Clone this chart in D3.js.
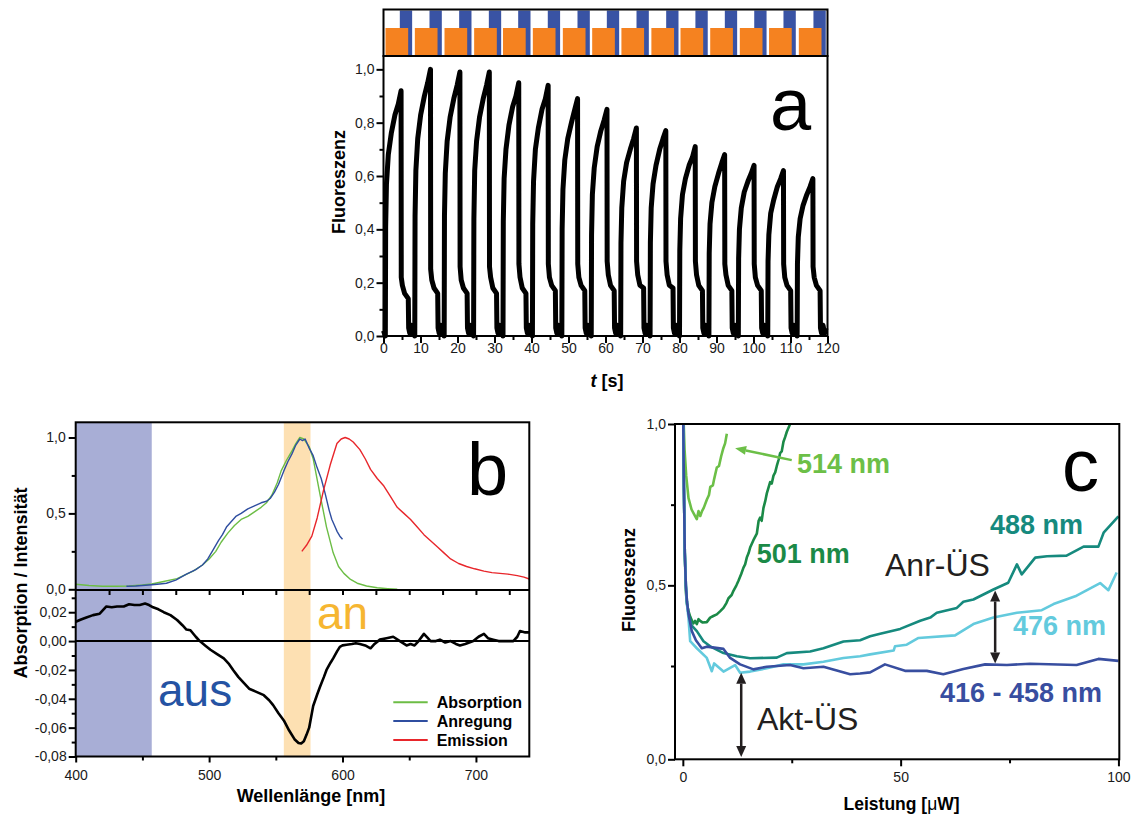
<!DOCTYPE html>
<html><head><meta charset="utf-8">
<script src="https://cdn.jsdelivr.net/npm/d3@7"></script>
<style>
body{margin:0;background:#fff}
svg{display:block}
</style>
</head><body>
<svg id="chart" width="1137" height="816"></svg>
<script>
// ---------------- Panel a data ----------------
const aTickX = [0,10,20,30,40,50,60,70,80,90,100,110,120];
const aMinorX = [5,15,25,35,45,55,65,75,85,95,105,115];
const aTickY = [0,0.2,0.4,0.6,0.8,1.0];
const aMinorY = [0.1,0.3,0.5,0.7,0.9];
const orangeStart = [0.54,8.47,16.49,24.5,32.3,40.36,48.47,56.4,64.3,72.4,80.27,88.3,96.3,104.2,112.25];
const orangeLen = 6.13;
const blueStart = [4.41,12.43,20.45,28.47,36.4,44.4,52.43,60.36,68.38,76.4,84.3,92.25,100.2,108.1,116.2];
const blueLen = 3.33;
const cycleStart = [0.5,8.45,16.4,24.35,32.3,40.25,48.2,56.15,64.1,72.05,80.0,87.95,95.9,103.85,111.8];
const cycleOffset = [0,0.08,0.3,0.8,1.6,2.6,3.5,4.25,4.3,4.6,5.2,6.2,6.3,6.6,7.0,7.4,7.8];
const cycleValues = [
 [0,0.41,0.57,0.68,0.76,0.83,0.87,0.92,0.22,0.19,0.16,0.14,0.03,0.01,0.04,0.01,0.03],
 [0,0.45,0.62,0.74,0.83,0.90,0.95,1.00,0.25,0.21,0.18,0.16,0.03,0.01,0.04,0.01,0.03],
 [0,0.45,0.61,0.73,0.82,0.89,0.94,0.99,0.26,0.21,0.18,0.16,0.03,0.01,0.04,0.01,0.03],
 [0,0.44,0.62,0.73,0.82,0.89,0.94,0.99,0.26,0.22,0.18,0.16,0.03,0.01,0.04,0.01,0.03],
 [0,0.43,0.59,0.70,0.79,0.86,0.90,0.95,0.27,0.22,0.18,0.16,0.03,0.01,0.04,0.01,0.03],
 [0,0.42,0.58,0.70,0.78,0.85,0.89,0.94,0.27,0.22,0.19,0.17,0.03,0.01,0.04,0.01,0.03],
 [0,0.40,0.55,0.66,0.74,0.80,0.85,0.89,0.27,0.22,0.19,0.17,0.03,0.01,0.04,0.01,0.03],
 [0,0.38,0.53,0.63,0.71,0.77,0.81,0.85,0.28,0.23,0.19,0.17,0.03,0.01,0.04,0.01,0.03],
 [0,0.35,0.48,0.58,0.65,0.70,0.74,0.78,0.28,0.23,0.19,0.18,0.03,0.01,0.04,0.01,0.03],
 [0,0.35,0.48,0.57,0.64,0.70,0.74,0.77,0.28,0.23,0.19,0.18,0.03,0.01,0.04,0.01,0.03],
 [0,0.32,0.44,0.53,0.59,0.64,0.67,0.71,0.28,0.23,0.19,0.17,0.03,0.01,0.04,0.01,0.03],
 [0,0.31,0.42,0.50,0.56,0.61,0.65,0.68,0.27,0.23,0.19,0.17,0.03,0.01,0.04,0.01,0.03],
 [0,0.29,0.40,0.48,0.54,0.58,0.61,0.64,0.27,0.22,0.19,0.17,0.03,0.01,0.04,0.01,0.03],
 [0,0.28,0.38,0.46,0.51,0.56,0.59,0.62,0.27,0.22,0.19,0.17,0.03,0.01,0.04,0.01,0.03],
 [0,0.27,0.37,0.44,0.49,0.53,0.56,0.59,0.26,0.22,0.19,0.17,0.03,0.01,0.04,0.01,0.03]
];

// ---------------- Panel b data ----------------
const bTickX = [400,500,600,700];
const bMinorX = [450,550,650];
const bMidTicks = [425,450,475,500,525,550,575,600,625,650,675,700,725];
const bUpTicks = [0,0.5,1.0];
const bUpMinor = [0.25,0.75];
const bLowTicks = [-0.08,-0.06,-0.04,-0.02,0,0.02];
const bLowMinor = [-0.07,-0.05,-0.03,-0.01,0.01,0.03];
const bandAus = [400,457];
const bandAn = [556,576];
const absorption = [[400,0.033],[410,0.025],[420,0.02],[430,0.02],[440,0.022],[450,0.028],[457,0.035],[465,0.05],[476,0.07],[488,0.12],[495,0.16],[500,0.2],[505,0.25],[509,0.31],[514,0.37],[519,0.42],[524,0.46],[529,0.48],[534,0.51],[539,0.54],[543,0.57],[547,0.62],[551,0.70],[554,0.78],[558,0.85],[562,0.91],[565,0.96],[568,1.0],[571,0.99],[575,0.94],[578,0.86],[583,0.63],[588,0.41],[593,0.24],[597,0.15],[601,0.105],[606,0.065],[611,0.04],[618,0.022],[626,0.01],[634,0.004],[641,0.0]];
const excitation = [[438,0.02],[445,0.022],[450,0.025],[457,0.03],[463,0.035],[468,0.04],[475,0.06],[483,0.1],[490,0.13],[495,0.16],[499,0.2],[503,0.26],[507,0.32],[510,0.36],[513,0.41],[516,0.44],[520,0.48],[524,0.5],[529,0.53],[534,0.55],[539,0.57],[543,0.58],[546,0.6],[549,0.64],[552,0.69],[556,0.78],[559,0.84],[562,0.89],[565,0.95],[568,0.99],[570,0.98],[572,0.99],[575,0.93],[578,0.88],[581,0.8],[584,0.73],[587,0.63],[590,0.52],[592,0.46],[594,0.42],[596,0.38],[598,0.35],[600,0.33]];
const emission = [[569.5,0.25],[573,0.29],[577,0.35],[581,0.47],[585.7,0.65],[590.8,0.82],[595.8,0.96],[599,0.99],[602,1.0],[605,0.99],[608,0.97],[613,0.92],[617,0.86],[621,0.79],[626,0.73],[631,0.68],[636,0.61],[641,0.54],[646,0.5],[651,0.46],[656,0.41],[661,0.36],[666,0.32],[671,0.28],[676,0.24],[681,0.2],[687,0.17],[693,0.15],[699,0.135],[706,0.12],[712,0.11],[718,0.105],[724,0.1],[731,0.09],[736,0.08],[740,0.068]];
const difference = [[400,0.0134],[404,0.015],[408,0.0164],[413,0.018],[418,0.019],[423,0.024],[427,0.0235],[431,0.024],[436,0.024],[440,0.0255],[444,0.025],[448,0.025],[452,0.026],[455,0.025],[458,0.0234],[462,0.022],[466,0.020],[471,0.018],[476,0.0146],[480,0.011],[483,0.008],[486,0.0075],[490,0.003],[493,0.0],[497,-0.003],[501,-0.006],[506,-0.009],[511,-0.012],[515,-0.016],[518,-0.02],[522,-0.025],[526,-0.029],[530,-0.033],[535,-0.035],[541,-0.0375],[545,-0.041],[548,-0.0444],[552,-0.05],[556,-0.055],[560,-0.062],[564,-0.068],[567,-0.0706],[569,-0.071],[571,-0.0695],[573,-0.065],[575,-0.06],[578,-0.045],[581,-0.037],[583,-0.032],[586,-0.025],[588,-0.02],[591,-0.015],[593,-0.012],[596,-0.007],[598,-0.004],[600,-0.003],[603,-0.0025],[607,-0.002],[610,-0.0015],[613,-0.002],[617,-0.003],[621,-0.005],[624,-0.002],[628,0.001],[633,0.002],[638,0.003],[643,0.0],[648,-0.003],[651,-0.002],[654,-0.003],[657,0.0],[661,0.005],[664,0.002],[666,0.0],[670,0.0],[673,0.001],[677,-0.001],[681,0.0],[685,-0.002],[688,-0.003],[692,-0.002],[698,0.0],[702,0.003],[706,0.005],[709,0.002],[713,0.001],[717,0.0],[721,0.0],[725,0.0],[728,0.0],[731,0.003],[733,0.007],[737,0.006],[740,0.006]];
const legendNames = ["Absorption","Anregung","Emission"];

// ---------------- Panel c data ----------------
const cTickX = [0,50,100];
const cMinorX = [25,75];
const cTickY = [0,0.5,1.0];
const cMinorY = [0.25,0.75];
const s514 = [[0.2,1.0],[0.4,0.92],[0.77,0.84],[1.3,0.77],[2.0,0.735],[2.6,0.72],[3.2,0.705],[3.6,0.73],[4.0,0.715],[4.4,0.73],[4.8,0.74],[5.5,0.765],[6.0,0.78],[6.3,0.805],[6.9,0.81],[7.2,0.83],[7.8,0.865],[8.3,0.87],[8.8,0.9],[9.3,0.925],[9.7,0.94],[10.1,0.97]];
const s501 = [[0.1,1.0],[0.25,0.8],[0.45,0.6],[0.7,0.48],[0.92,0.443],[1.3,0.42],[1.68,0.403],[2.1,0.39],[2.44,0.382],[2.8,0.39],[3.21,0.38],[3.6,0.395],[3.97,0.39],[4.5,0.385],[5.5,0.386],[6.27,0.40],[7.0,0.405],[7.8,0.41],[8.6,0.42],[9.33,0.43],[10.0,0.445],[10.48,0.46],[11.2,0.47],[11.62,0.483],[12.3,0.5],[12.77,0.514],[13.4,0.535],[13.92,0.555],[14.3,0.565],[14.68,0.586],[15.1,0.60],[15.45,0.617],[16.2,0.64],[16.98,0.66],[17.4,0.70],[17.75,0.71],[18.1,0.70],[18.51,0.74],[18.9,0.76],[19.28,0.785],[19.6,0.80],[20.04,0.82],[20.4,0.815],[20.81,0.84],[21.2,0.85],[21.57,0.87],[22.0,0.89],[22.34,0.91],[22.7,0.915],[23.1,0.945],[23.5,0.96],[23.87,0.976],[24.63,1.0]];
const s488 = [[0.1,1.0],[0.25,0.8],[0.45,0.6],[0.7,0.5],[0.95,0.45],[1.3,0.41],[2.06,0.375],[3.21,0.358],[4.74,0.327],[6.27,0.311],[9.33,0.29],[12.39,0.28],[15.45,0.274],[21.57,0.276],[23.87,0.29],[29.22,0.295],[32.28,0.305],[36.88,0.326],[40.7,0.33],[43.0,0.342],[45.3,0.35],[49.9,0.365],[54.5,0.39],[56.8,0.40],[58.3,0.415],[62.9,0.43],[64.4,0.449],[66.7,0.456],[71.3,0.487],[74.7,0.508],[76.7,0.565],[77.8,0.534],[80.9,0.586],[83.6,0.59],[88.1,0.592],[92.0,0.62],[95.4,0.62],[96.6,0.663],[100,0.714]];
const s476 = [[0.1,1.0],[0.25,0.8],[0.45,0.6],[0.7,0.5],[0.95,0.44],[1.29,0.40],[1.68,0.327],[3.21,0.305],[5.5,0.275],[6.65,0.236],[7.19,0.258],[9.33,0.235],[12.0,0.253],[13.15,0.232],[15.45,0.235],[19.28,0.244],[23.1,0.255],[27.69,0.255],[32.28,0.263],[36.88,0.275],[40.7,0.28],[43.0,0.286],[48.4,0.298],[48.7,0.311],[51.4,0.316],[54.1,0.337],[62.5,0.345],[66.7,0.38],[71.3,0.40],[76.7,0.415],[82.4,0.423],[85.1,0.442],[90.4,0.468],[95.8,0.507],[97.7,0.485],[99.6,0.54]];
const s416 = [[0.1,1.0],[0.25,0.8],[0.45,0.6],[0.7,0.5],[0.95,0.45],[1.3,0.41],[2.06,0.358],[3.0,0.33],[4.35,0.305],[5.5,0.31],[9.33,0.303],[10.86,0.275],[13.15,0.255],[16.21,0.241],[19.28,0.248],[24.63,0.253],[27.69,0.244],[32.28,0.248],[38.41,0.228],[40.7,0.23],[43.0,0.233],[46.4,0.255],[51.0,0.237],[56.0,0.237],[59.8,0.228],[64.4,0.242],[69.4,0.255],[74.4,0.253],[79.7,0.257],[90.4,0.253],[95.4,0.272],[100,0.266]];
const cSeries = [
  {name:"514 nm", data:s514, color:"#6cbf47"},
  {name:"501 nm", data:s501, color:"#1b8a47"},
  {name:"488 nm", data:s488, color:"#168a7e"},
  {name:"476 nm", data:s476, color:"#63cadd"},
  {name:"416 - 458 nm", data:s416, color:"#384ea0"}
];
const aktArrow = {p:13.4, from:0.232, to:0.006};
const anrArrow = {p:71.7, from:0.484, to:0.258};
const arrow514 = {from:[25.0,0.888], to:[12.0,0.925]};

// ---------------- drawing ----------------
const FONT = '"Liberation Sans", Arial, Helvetica, sans-serif';
const TFS = 14;
const svg = d3.select("#chart");
const loc = d3.formatLocale({decimal:",", thousands:".", grouping:[3], currency:["",""], minus:"-"});
const f1 = loc.format(".1f"), f2 = loc.format(".2f"), fd = loc.format("d");

function styleAxis(g, fs){
  g.select(".domain").remove();
  g.selectAll(".tick line").attr("stroke","#000").attr("stroke-width",2);
  g.selectAll(".tick text").attr("font-family",FONT).attr("font-size",fs).attr("fill","#1a1a1a");
}
function noLabel(){ return ""; }
function arrowHead(g, x1,y1,x2,y2,color,L,W){
  const dx=x2-x1, dy=y2-y1, len=Math.hypot(dx,dy), ux=dx/len, uy=dy/len;
  const bx=x2-ux*L, by=y2-uy*L;
  g.append("path").attr("d",`M${x2},${y2}L${bx-uy*W/2},${by+ux*W/2}L${bx+uy*W/2},${by-ux*W/2}Z`).attr("fill",color);
  return [bx,by];
}

// ===== Panel a =====
{
  const x = d3.scaleLinear([0,120],[383.5,827.5]);
  const y = d3.scaleLinear([0,1.05],[336,56]);
  const g = svg.append("g");
  g.selectAll("rect.blue").data(blueStart).join("rect").attr("class","blue")
    .attr("x",d=>x(d)).attr("width",d=>x(d+blueLen)-x(d)).attr("y",10.5).attr("height",44.5).attr("fill","#3953a4");
  g.selectAll("rect.orange").data(orangeStart).join("rect").attr("class","orange")
    .attr("x",d=>x(d)).attr("width",d=>x(d+orangeLen)-x(d)).attr("y",28).attr("height",27).attr("fill","#f58220");
  g.append("rect").attr("x",383.5).attr("y",9.5).attr("width",444).attr("height",46.5)
    .attr("fill","none").attr("stroke","#000").attr("stroke-width",2);

  const pts = [[0,0.02]];
  cycleStart.forEach((s,i)=>cycleOffset.forEach((o,j)=>pts.push([s+o, cycleValues[i][j]])));
  g.append("path").datum(pts).attr("d",d3.line().x(d=>x(d[0])).y(d=>y(d[1])))
    .attr("fill","none").attr("stroke","#000").attr("stroke-width",5).attr("stroke-linejoin","round");

  g.append("rect").attr("x",383.5).attr("y",56).attr("width",444).attr("height",280)
    .attr("fill","none").attr("stroke","#000").attr("stroke-width",2);

  g.append("g").attr("transform","translate(383.5,0)").call(d3.axisLeft(y).tickValues(aTickY).tickFormat(f1).tickSize(7).tickPadding(2)).call(styleAxis,TFS);
  g.append("g").attr("transform","translate(383.5,0)").call(d3.axisLeft(y).tickValues(aMinorY).tickFormat(noLabel).tickSize(4)).call(styleAxis,TFS);
  g.append("g").attr("transform","translate(0,336)").call(d3.axisBottom(x).tickValues(aTickX).tickFormat(fd).tickSize(7).tickPadding(0)).call(styleAxis,TFS);
  g.append("g").attr("transform","translate(0,336)").call(d3.axisBottom(x).tickValues(aMinorX).tickFormat(noLabel).tickSize(4)).call(styleAxis,TFS);

  g.append("text").attr("transform","translate(345,182) rotate(-90)").attr("text-anchor","middle")
    .attr("font-family",FONT).attr("font-weight","bold").attr("font-size",18).text("Fluoreszenz");
  const xl = g.append("text").attr("x",607).attr("y",387).attr("text-anchor","middle")
    .attr("font-family",FONT).attr("font-weight","bold").attr("font-size",18);
  xl.append("tspan").attr("font-style","italic").text("t");
  xl.append("tspan").text(" [s]");
  g.append("text").attr("x",770).attr("y",130).attr("font-family",FONT).attr("font-size",74).text("a");
}

// ===== Panel b =====
{
  const x = d3.scaleLinear([400,740],[75.7,529.3]);
  const yU = d3.scaleLinear([0,1.1],[589.3,422.3]);
  const yL = d3.scaleLinear([-0.08,0.0354],[756.5,590]);
  const g = svg.append("g");
  g.append("rect").attr("x",x(bandAus[0])).attr("width",x(bandAus[1])-x(bandAus[0])).attr("y",422.3).attr("height",334.2).attr("fill","#a8aed6");
  g.append("rect").attr("x",x(bandAn[0])).attr("width",x(bandAn[1])-x(bandAn[0])).attr("y",422.3).attr("height",334.2).attr("fill","#fde0b2");

  const lineU = d3.line().x(d=>x(d[0])).y(d=>yU(d[1]));
  const lineL = d3.line().x(d=>x(d[0])).y(d=>yL(d[1]));
  const colors = ["#6cbd45","#2f4ea0","#e8262b"];
  [absorption, excitation, emission].forEach((s,i)=>{
    g.append("path").datum(s).attr("d",lineU).attr("fill","none").attr("stroke",colors[i]).attr("stroke-width",1.4).attr("stroke-linejoin","round");
  });
  g.append("line").attr("x1",x(400)).attr("x2",x(740)).attr("y1",yL(0)).attr("y2",yL(0)).attr("stroke","#000").attr("stroke-width",2);
  g.append("path").datum(difference).attr("d",lineL).attr("fill","none").attr("stroke","#000").attr("stroke-width",2.6).attr("stroke-linejoin","round");

  g.append("rect").attr("x",75.7).attr("y",422.3).attr("width",453.6).attr("height",334.2).attr("fill","none").attr("stroke","#000").attr("stroke-width",2);
  g.append("line").attr("x1",75.7).attr("x2",529.3).attr("y1",590).attr("y2",590).attr("stroke","#000").attr("stroke-width",2);

  g.append("g").attr("transform","translate(75.7,0)").call(d3.axisLeft(yU).tickValues(bUpTicks).tickFormat(f1).tickSize(7).tickPadding(3)).call(styleAxis,TFS);
  g.append("g").attr("transform","translate(75.7,0)").call(d3.axisLeft(yU).tickValues(bUpMinor).tickFormat(noLabel).tickSize(4)).call(styleAxis,TFS);
  g.append("g").attr("transform","translate(75.7,0)").call(d3.axisLeft(yL).tickValues(bLowTicks).tickFormat(f2).tickSize(7).tickPadding(2)).call(styleAxis,TFS);
  g.append("g").attr("transform","translate(75.7,0)").call(d3.axisLeft(yL).tickValues(bLowMinor).tickFormat(noLabel).tickSize(4)).call(styleAxis,TFS);
  g.append("g").attr("transform","translate(0,590)").call(d3.axisBottom(x).tickValues(bMidTicks).tickFormat(noLabel).tickSize(5)).call(styleAxis,TFS);
  g.append("g").attr("transform","translate(0,756.5)").call(d3.axisBottom(x).tickValues(bTickX).tickFormat(fd).tickSize(6).tickPadding(8)).call(styleAxis,TFS);
  g.append("g").attr("transform","translate(0,756.5)").call(d3.axisBottom(x).tickValues(bMinorX).tickFormat(noLabel).tickSize(4)).call(styleAxis,TFS);

  g.append("text").attr("transform","translate(27,583) rotate(-90)").attr("text-anchor","middle")
    .attr("font-family",FONT).attr("font-weight","bold").attr("font-size",18).text("Absorption / Intensität");
  g.append("text").attr("x",311).attr("y",802).attr("text-anchor","middle")
    .attr("font-family",FONT).attr("font-weight","bold").attr("font-size",18).text("Wellenlänge [nm]");
  g.append("text").attr("x",467).attr("y",495).attr("font-family",FONT).attr("font-size",74).text("b");
  g.append("text").attr("x",158).attr("y",706).attr("font-family",FONT).attr("font-size",46).attr("fill","#2553a3").text("aus");
  g.append("text").attr("x",317).attr("y",629).attr("font-family",FONT).attr("font-size",46).attr("fill","#f6b631").text("an");

  legendNames.forEach((n,i)=>{
    const yy = 702.3 + i*18.8;
    g.append("line").attr("x1",393.3).attr("x2",427.7).attr("y1",yy).attr("y2",yy).attr("stroke",colors[i]).attr("stroke-width",2);
    g.append("text").attr("x",436.7).attr("y",yy+6).attr("font-family",FONT).attr("font-weight","bold").attr("font-size",16).text(n);
  });
}

// ===== Panel c =====
{
  const x = d3.scaleLinear([-1.8,100.2],[675,1119.3]);
  const y = d3.scaleLinear([0,0.25,1],[759.3,666,424]);
  const g = svg.append("g");
  svg.append("defs").append("clipPath").attr("id","clipC").append("rect").attr("x",675).attr("y",424).attr("width",444.3).attr("height",335.3);
  const line = d3.line().x(d=>x(d[0])).y(d=>y(d[1]));
  const cg = g.append("g").attr("clip-path","url(#clipC)");
  cSeries.forEach(s=>{
    cg.append("path").datum(s.data).attr("d",line).attr("fill","none").attr("stroke",s.color).attr("stroke-width",2.6).attr("stroke-linejoin","round");
  });

  g.append("rect").attr("x",675).attr("y",424).attr("width",444.3).attr("height",335.3).attr("fill","none").attr("stroke","#000").attr("stroke-width",2);

  g.append("g").attr("transform","translate(675,0)").call(d3.axisLeft(y).tickValues(cTickY).tickFormat(f1).tickSize(7).tickPadding(2)).call(styleAxis,TFS);
  g.append("g").attr("transform","translate(675,0)").call(d3.axisLeft(y).tickValues(cMinorY).tickFormat(noLabel).tickSize(4)).call(styleAxis,TFS);
  g.append("g").attr("transform","translate(0,759.3)").call(d3.axisBottom(x).tickValues(cTickX).tickFormat(fd).tickSize(7).tickPadding(6)).call(styleAxis,TFS);
  g.append("g").attr("transform","translate(0,759.3)").call(d3.axisBottom(x).tickValues(cMinorX).tickFormat(noLabel).tickSize(4)).call(styleAxis,TFS);

  const dark = "#231f20";
  [aktArrow, anrArrow].forEach(a=>{
    const xx = x(a.p), y1 = y(a.from), y2 = y(a.to);
    const b1 = arrowHead(g, xx,y2,xx,y1,dark,11,10);
    const b2 = arrowHead(g, xx,y1,xx,y2,dark,11,10);
    g.append("line").attr("x1",xx).attr("x2",xx).attr("y1",b1[1]).attr("y2",b2[1]).attr("stroke",dark).attr("stroke-width",2.5);
  });
  {
    const x1=x(arrow514.from[0]), y1=y(arrow514.from[1]), x2=x(arrow514.to[0]), y2=y(arrow514.to[1]);
    const b = arrowHead(g, x1,y1,x2,y2,"#6cbf47",11,9);
    g.append("line").attr("x1",x1).attr("y1",y1).attr("x2",b[0]).attr("y2",b[1]).attr("stroke","#6cbf47").attr("stroke-width",2.5);
  }

  const lab = [
    {t:"514 nm", x:797, y:473, c:"#6cbf47"},
    {t:"501 nm", x:756.7, y:563, c:"#1b8a47"},
    {t:"488 nm", x:990, y:534, c:"#168a7e"},
    {t:"476 nm", x:1013, y:635, c:"#63cadd"},
    {t:"416 - 458 nm", x:940, y:701.7, c:"#384ea0"}
  ];
  lab.forEach(l=>g.append("text").attr("x",l.x).attr("y",l.y).attr("font-family",FONT).attr("font-weight","bold").attr("font-size",27).attr("fill",l.c).text(l.t));
  g.append("text").attr("x",885).attr("y",576).attr("font-family",FONT).attr("font-size",32).attr("fill",dark).text("Anr-ÜS");
  g.append("text").attr("x",757).attr("y",730).attr("font-family",FONT).attr("font-size",32).attr("fill",dark).text("Akt-ÜS");
  g.append("text").attr("x",1062).attr("y",491).attr("font-family",FONT).attr("font-size",74).text("c");

  g.append("text").attr("transform","translate(635,580) rotate(-90)").attr("text-anchor","middle")
    .attr("font-family",FONT).attr("font-weight","bold").attr("font-size",18).text("Fluoreszenz");
  const xl = g.append("text").attr("x",901.6).attr("y",810).attr("text-anchor","middle")
    .attr("font-family",FONT).attr("font-weight","bold").attr("font-size",17.5);
  xl.append("tspan").text("Leistung [");
  xl.append("tspan").attr("font-weight","normal").text("μ");
  xl.append("tspan").text("W]");
}
</script>
</body></html>
